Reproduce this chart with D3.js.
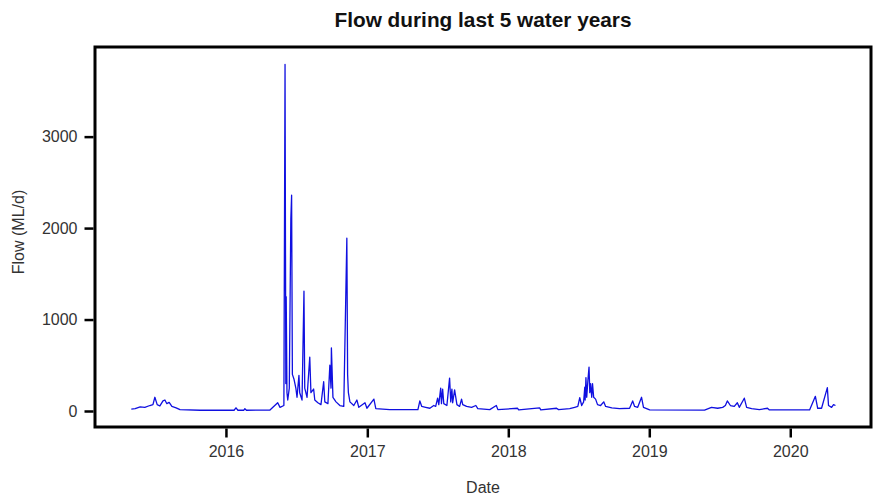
<!DOCTYPE html>
<html><head><meta charset="utf-8">
<script src="https://cdn.jsdelivr.net/npm/d3@7"></script>
<style>body{margin:0;background:#fff}svg{display:block}</style>
</head><body>
<svg id="chart" width="874" height="496"></svg>
<script>
const dates = ["2015-05-01","2015-05-11","2015-05-24","2015-06-05","2015-06-18","2015-06-26","2015-07-01","2015-07-07","2015-07-14","2015-07-22","2015-07-27","2015-08-01","2015-08-07","2015-08-14","2015-08-25","2015-09-04","2015-10-26","2016-01-22","2016-01-27","2016-02-01","2016-02-16","2016-02-19","2016-02-23","2016-04-24","2016-05-14","2016-05-20","2016-05-30","2016-06-02","2016-06-04","2016-06-05","2016-06-07","2016-06-09","2016-06-13","2016-06-17","2016-06-19","2016-06-21","2016-06-25","2016-06-30","2016-07-03","2016-07-08","2016-07-10","2016-07-16","2016-07-21","2016-07-23","2016-07-29","2016-08-05","2016-08-08","2016-08-15","2016-08-18","2016-08-26","2016-09-03","2016-09-10","2016-09-13","2016-09-21","2016-09-26","2016-09-29","2016-09-30","2016-10-04","2016-10-12","2016-10-22","2016-11-01","2016-11-09","2016-11-11","2016-11-13","2016-11-17","2016-11-27","2016-12-05","2016-12-10","2016-12-26","2016-12-31","2017-01-18","2017-01-23","2017-02-28","2017-05-12","2017-05-17","2017-05-22","2017-06-01","2017-06-12","2017-06-22","2017-06-27","2017-07-02","2017-07-05","2017-07-10","2017-07-12","2017-07-15","2017-07-18","2017-07-26","2017-08-02","2017-08-05","2017-08-08","2017-08-10","2017-08-15","2017-08-21","2017-08-28","2017-09-02","2017-09-05","2017-09-15","2017-09-28","2017-10-09","2017-10-14","2017-11-14","2017-12-01","2017-12-05","2018-01-25","2018-01-28","2018-03-23","2018-03-26","2018-05-06","2018-05-11","2018-06-09","2018-06-22","2018-06-30","2018-07-05","2018-07-10","2018-07-15","2018-07-18","2018-07-19","2018-07-21","2018-07-23","2018-07-26","2018-07-29","2018-07-31","2018-08-02","2018-08-05","2018-08-07","2018-08-10","2018-08-15","2018-08-20","2018-08-28","2018-09-05","2018-09-10","2018-09-26","2018-10-16","2018-11-11","2018-11-19","2018-11-24","2018-12-02","2018-12-12","2018-12-17","2019-01-02","2019-05-24","2019-06-11","2019-06-27","2019-07-10","2019-07-17","2019-07-22","2019-07-30","2019-08-09","2019-08-17","2019-08-22","2019-09-04","2019-09-10","2019-09-23","2019-10-13","2019-11-03","2019-11-08","2020-02-20","2020-03-06","2020-03-12","2020-03-22","2020-04-06","2020-04-09","2020-04-17","2020-04-22","2020-04-27"];
const flow = [20,25,45,40,60,70,150,70,55,110,120,80,95,50,35,15,8,8,35,8,8,25,8,10,90,40,60,3790,300,1250,200,120,250,2100,2360,400,350,250,150,390,200,120,1310,250,150,590,200,240,120,90,70,320,100,80,500,250,690,150,100,60,50,1890,400,200,100,60,120,40,90,30,130,25,15,15,110,50,40,30,60,50,140,70,250,80,240,80,60,360,100,240,90,230,70,50,130,70,50,40,60,25,15,60,15,30,12,35,12,30,15,25,40,50,145,60,100,260,120,365,150,330,480,200,300,150,300,150,130,70,60,100,50,35,25,30,110,50,40,150,40,12,10,40,30,40,60,110,60,50,90,40,140,40,25,15,30,12,12,160,30,30,255,60,40,70,60];
const yTicks = [0,1000,2000,3000];
const xTickYears = [2016,2017,2018,2019,2020];

const parse = d3.utcParse("%Y-%m-%d");
const data = dates.map((d,i)=>({date:parse(d), v:flow[i]}));

const svg = d3.select("#chart");
const L=95, R=871, T=47, B=427;
const x = d3.scaleUtc().domain([parse("2015-01-27"), parse("2020-07-28")]).range([L,R]);
const y = d3.scaleLinear().domain([-175,3980]).range([B,T]);
const font = "Liberation Sans, Arial, sans-serif";

svg.append("path").datum(data)
  .attr("fill","none").attr("stroke","#1010e0").attr("stroke-width",1.3)
  .attr("stroke-linejoin","round")
  .attr("d", d3.line().x(d=>x(d.date)).y(d=>y(d.v)));

svg.append("rect").attr("x",L).attr("y",T).attr("width",R-L).attr("height",B-T)
  .attr("fill","none").attr("stroke","#000").attr("stroke-width",3);

const yAxis = svg.append("g").attr("transform",`translate(${L-1.5},0)`)
  .call(d3.axisLeft(y).tickValues(yTicks).tickSize(9).tickPadding(7).tickFormat(d3.format("d")));
yAxis.select(".domain").remove();
yAxis.selectAll("line").attr("stroke","#000").attr("stroke-width",2.5);
yAxis.selectAll("text").attr("font-family",font).attr("font-size",16).attr("fill","#333");

const xAxis = svg.append("g").attr("transform",`translate(0,${B+1.5})`)
  .call(d3.axisBottom(x).tickValues(xTickYears.map(yr=>new Date(Date.UTC(yr,0,1)))).tickSize(9).tickPadding(8).tickFormat(d3.utcFormat("%Y")));
xAxis.select(".domain").remove();
xAxis.selectAll("line").attr("stroke","#000").attr("stroke-width",2.5);
xAxis.selectAll("text").attr("font-family",font).attr("font-size",16).attr("fill","#333");

svg.append("text").attr("x",483).attr("y",27).attr("text-anchor","middle")
  .attr("font-family",font).attr("font-weight","bold").attr("font-size",20.8).attr("fill","#111")
  .text("Flow during last 5 water years");
svg.append("text").attr("x",483).attr("y",493).attr("text-anchor","middle")
  .attr("font-family",font).attr("font-size",16).attr("fill","#333").text("Date");
svg.append("text").attr("transform","translate(24,232) rotate(-90)").attr("text-anchor","middle")
  .attr("font-family",font).attr("font-size",16).attr("fill","#333").text("Flow (ML/d)");
</script>
</body></html>
